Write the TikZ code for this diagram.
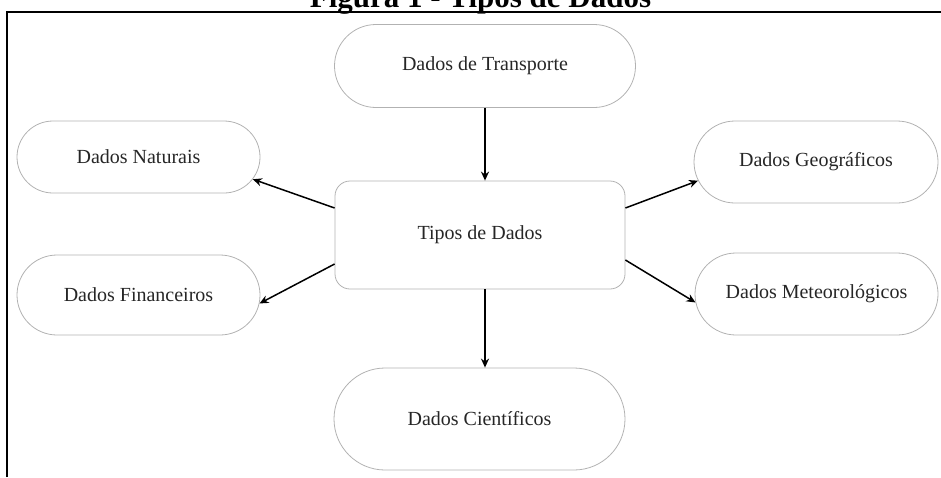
\documentclass[tikz,border=0pt]{standalone}
\usepackage{fontspec}
\setmainfont{Liberation Serif}
\usetikzlibrary{shapes.misc,arrows.meta}

\tikzset{
    dado/.style={rounded rectangle, draw=gray!60, line width=0.8pt, text=black!85,
        font=\fontsize{20}{24}\selectfont, inner sep=0pt},
    seta/.style={-{Stealth[length=9pt,width=8pt]}, line width=1.5pt},
}

\begin{document}
\begin{tikzpicture}[x=1pt, y=-1pt]
    \useasboundingbox (0,0) rectangle (941,477);
    \coordinate (fa) at (7,477); \coordinate (fb) at (7,12); \coordinate (fc) at (941,12);

    \draw[line width=1.5pt] (fa)--(fb)--(fc);
    \node[font=\bfseries\fontsize{31}{36}\selectfont, anchor=base] (titulo) at (480.5,7) {Figura 1 - Tipos de Dados};

    \node[draw=gray!60, line width=0.8pt, rounded corners=15pt, text=black!85, font=\fontsize{20}{24}\selectfont,
        minimum width=290pt, minimum height=108pt] (tipos) at (480,235) {Tipos de Dados};

    \node[dado, minimum width=301pt, minimum height=83pt] (transporte) at (485,66) {Dados de Transporte};
    \node[dado, minimum width=243pt, minimum height=72pt] (naturais) at (138.5,157) {Dados Naturais};
    \node[dado, minimum width=243pt, minimum height=80pt] (financeiros) at (138.5,295) {Dados Financeiros};
    \node[dado, minimum width=244pt, minimum height=82pt] (geograficos) at (816,162) {Dados Geográficos};
    \node[dado, minimum width=243pt, minimum height=82pt] (meteorologicos) at (816.5,294) {Dados Meteorológicos};
    \node[dado, minimum width=291pt, minimum height=102pt] (cientificos) at (479.5,419) {Dados Científicos};

    \draw[seta] (transporte.south) -- (transporte.south |- tipos.north);
    \draw[seta] ([xshift=5pt]tipos.south) -- ([xshift=5pt]tipos.south |- cientificos.north);
    \draw[seta] ([yshift=27pt]tipos.west) -- (naturais.-11);
    \draw[seta] ([yshift=-29pt]tipos.west) -- (financeiros.-4);
    \draw[seta] ([yshift=27pt]tipos.east) -- (geograficos.189);
    \draw[seta] ([yshift=-25pt]tipos.east) -- (meteorologicos.184);
\end{tikzpicture}
\end{document}
